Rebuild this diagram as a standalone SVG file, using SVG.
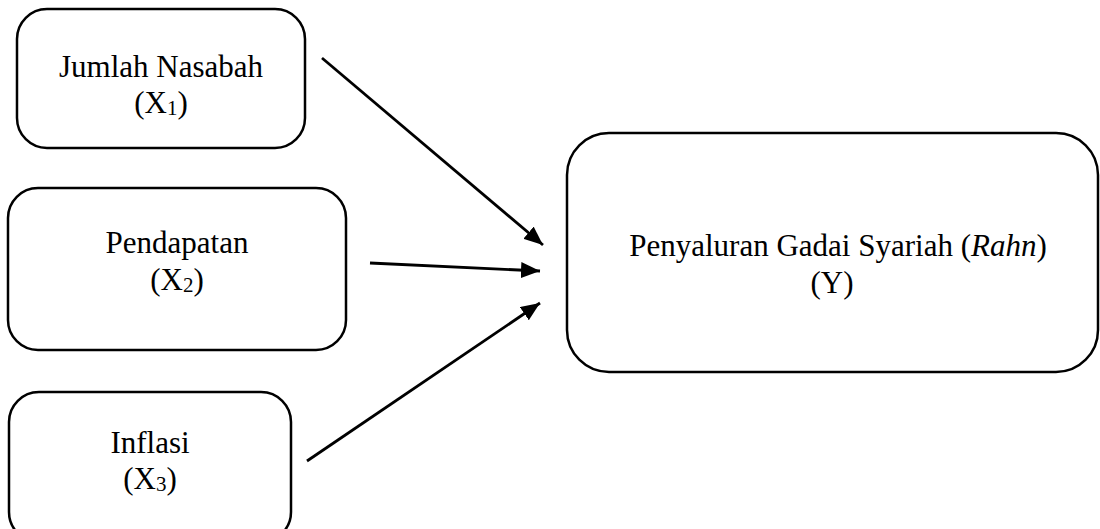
<svg xmlns="http://www.w3.org/2000/svg" width="1100" height="529" viewBox="0 0 1100 529">
<style>
.box{fill:#fff;stroke:#000;stroke-width:2.5}
.t{font-family:"Liberation Serif","Times New Roman",serif;font-size:31px;fill:#000;text-anchor:middle}
.s{font-size:21px}
.c{stroke:#000;stroke-width:2.8;fill:none;marker-end:url(#ah)}
</style>
<defs>
<marker id="ah" markerWidth="20" markerHeight="16" refX="19" refY="8" orient="auto" markerUnits="userSpaceOnUse">
<path d="M0,0 L19,8 L0,16 Z" fill="#000"/>
</marker>
</defs>
<rect width="1100" height="529" fill="#fff"/>
<g id="x1">
<rect class="box" x="17" y="9" width="288" height="139" rx="30"/>
<text class="t" x="161" y="77">Jumlah Nasabah</text>
<text class="t" x="161" y="113">(X<tspan class="s" dy="2">1</tspan><tspan dy="-2">)</tspan></text>
</g>
<g id="x2">
<rect class="box" x="8" y="188" width="338" height="162" rx="30"/>
<text class="t" x="177" y="253">Pendapatan</text>
<text class="t" x="177" y="290">(X<tspan class="s" dy="2">2</tspan><tspan dy="-2">)</tspan></text>
</g>
<g id="x3">
<rect class="box" x="9" y="392" width="282" height="150" rx="30"/>
<text class="t" x="150" y="453">Inflasi</text>
<text class="t" x="150" y="489">(X<tspan class="s" dy="2">3</tspan><tspan dy="-2">)</tspan></text>
</g>
<g id="y">
<rect class="box" x="567" y="133" width="531" height="239" rx="42"/>
<text class="t" x="838" y="256">Penyaluran Gadai Syariah (<tspan font-style="italic">Rahn</tspan>)</text>
<text class="t" x="832" y="293">(Y)</text>
</g>
<g id="connectors">
<line class="c" x1="322" y1="58" x2="543" y2="245"/>
<line class="c" x1="370" y1="263" x2="540" y2="271"/>
<line class="c" x1="307" y1="461" x2="540" y2="303"/>
</g>
</svg>
